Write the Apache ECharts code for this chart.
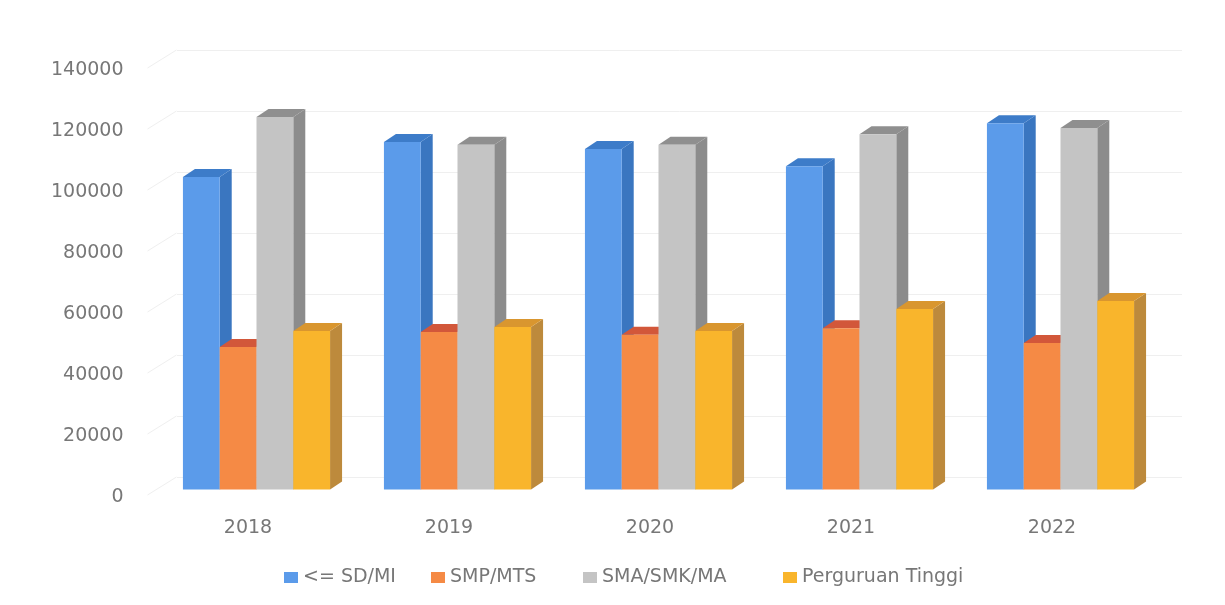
<!DOCTYPE html>
<html>
<head>
<meta charset="utf-8">
<style>
  html, body { margin: 0; background: #fff; }
  #main { width: 1225px; height: 605px; }
</style>
<script src="https://cdn.jsdelivr.net/npm/echarts@6/dist/echarts.min.js"></script>
</head>
<body>
<div id="main"></div>
<script>
const years = ['2018', '2019', '2020', '2021', '2022']
const yTicks = [0, 20000, 40000, 60000, 80000, 100000, 120000, 140000]
const names = ['<= SD/MI', 'SMP/MTS', 'SMA/SMK/MA', 'Perguruan Tinggi']
const sdMi = [102500, 113900, 111600, 106000, 120100]
const smpMts = [46700, 51600, 50700, 52900, 48000]
const smaSmk = [122100, 113000, 113000, 116500, 118500]
const pt = [52000, 53300, 52000, 59200, 61800]

const font = '"DejaVu Sans", sans-serif'
const depthX = 12
const depthY = 8
const barLift = 7.5 // 柱子底部比刻度标签的0位置高一点
const legendLefts = [284, 431, 583, 783] // 原图图例间距不均匀，分开摆放

// 画一根伪3D柱子：正面 + 顶面 + 侧面
function bar3d(slot, colors) {
  return function (params, api) {
    const base = api.coord([api.value(0), 0])
    const top = api.coord([api.value(0), api.value(1)])
    const band = api.size([1, 0])[0]
    const w = band * 0.183
    const x0 = base[0] + 8.5 - w * 2 + slot * w
    const x1 = x0 + w
    const yb = base[1] - barLift
    const yt = top[1] - barLift
    return {
      type: 'group',
      children: [
        {
          type: 'polygon',
          shape: {points: [[x1, yb], [x1 + depthX, yb - depthY], [x1 + depthX, yt - depthY], [x1, yt]]},
          style: {fill: colors[1]},
        },
        {
          type: 'polygon',
          shape: {points: [[x0, yt], [x0 + depthX, yt - depthY], [x1 + depthX, yt - depthY], [x1, yt]]},
          style: {fill: colors[2]},
        },
        {
          type: 'rect',
          shape: {x: x0, y: yt, width: w, height: yb - yt},
          style: {fill: colors[0]},
        },
      ],
    }
  }
}

// 左侧墙的斜线
function wallStub(params, api) {
  const p = api.coord([0, api.value(0)])
  const left = p[0] - api.size([1, 0])[0] / 2
  return {
    type: 'line',
    shape: {x1: left, y1: p[1] - 2, x2: left + 29, y2: p[1] - 20},
    style: {stroke: '#efefef', lineWidth: 1},
  }
}

function barSeries(name, data, slot, colors) {
  return {
    name,
    type: 'custom',
    xAxisIndex: 0,
    yAxisIndex: 0,
    z: 3,
    itemStyle: {color: colors[0]},
    renderItem: bar3d(slot, colors),
    encode: {x: 0, y: 1},
    data: data.map((v, i) => [i, v]),
  }
}

const chart = echarts.init(document.getElementById('main'))
chart.setOption({
  animation: false,
  backgroundColor: '#fff',
  grid: [
    {left: 147.5, width: 1005, top: 70, height: 427},
    {left: 177, width: 1005, top: 50, height: 427},
  ],
  xAxis: [
    {
      type: 'category',
      gridIndex: 0,
      data: years,
      axisLine: {show: false},
      axisTick: {show: false},
      axisLabel: {color: '#777', fontFamily: font, fontSize: 19, margin: 22},
    },
    {
      type: 'category',
      gridIndex: 1,
      data: years,
      show: false,
    },
  ],
  yAxis: [
    {
      type: 'value',
      gridIndex: 0,
      min: 0,
      max: 140000,
      interval: 20000,
      axisLine: {show: false},
      axisTick: {show: false},
      splitLine: {show: false},
      axisLabel: {
        color: '#777',
        fontFamily: font,
        fontSize: 19,
        margin: 24,
        formatter: v => String(v),
      },
    },
    {
      type: 'value',
      gridIndex: 1,
      min: 0,
      max: 140000,
      interval: 20000,
      axisLine: {show: false},
      axisTick: {show: false},
      axisLabel: {show: false},
      splitLine: {lineStyle: {color: '#efefef', width: 1}},
    },
  ],
  legend: names.map((name, i) => ({
    data: [name],
    left: legendLefts[i],
    top: 568,
    padding: 0,
    icon: 'rect',
    itemWidth: 14,
    itemHeight: 11,
    itemGap: 0,
    textStyle: {color: '#777', fontFamily: font, fontSize: 19},
  })),
  series: [
    {
      type: 'custom',
      xAxisIndex: 0,
      yAxisIndex: 0,
      z: 1,
      silent: true,
      renderItem: wallStub,
      encode: {y: 0},
      data: yTicks.map(v => [v]),
    },
    barSeries(names[0], sdMi, 0, ['#5b9bea', '#3a76c0', '#3d7cc9']),
    barSeries(names[1], smpMts, 1, ['#f58a45', '#c9683a', '#d2573a']),
    barSeries(names[2], smaSmk, 2, ['#c4c4c4', '#8c8c8c', '#8f8f8f']),
    barSeries(names[3], pt, 3, ['#f9b52c', '#bd8a3c', '#d9962f']),
  ],
})
</script>
</body>
</html>
